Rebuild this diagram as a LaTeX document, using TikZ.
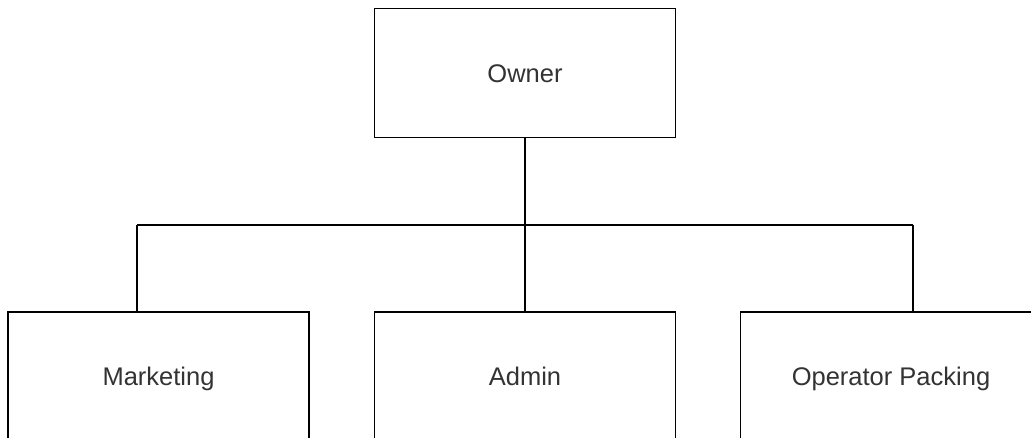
\documentclass[tikz,border=0pt]{standalone}
\usepackage{fontspec}
\setmainfont{Liberation Sans}
\begin{document}
\begin{tikzpicture}[x=1pt,y=-1pt,
  box/.style={draw=black,line width=1.5pt,minimum width=301pt,minimum height=129pt,inner sep=0pt,
    font=\fontsize{25.5}{30}\selectfont,text=black!80,text height=18pt,text depth=0pt},
  link/.style={draw=black,line width=1.5pt}]
\useasboundingbox (0,0) rectangle (1031,437);
\clip (0,0) rectangle (1031,437);
\fill[white] (0,0) rectangle (1031,437);
\node[box] (own) at (525,73) {Owner};
\node[box] (mkt) at (158.5,376.5) {Marketing};
\node[box] (adm) at (525,376.5) {Admin};
\node[box] (ops) at (891,376.5) {Operator Packing};
\coordinate (busL) at (137,225);
\coordinate (busM) at (525,225);
\coordinate (busR) at (913,225);
\draw[link] (own.south) -- (busM);
\draw[link] (busL) -- (busR);
\draw[link] (busL) -- (busL |- mkt.north);
\draw[link] (busM) -- (adm.north);
\draw[link] (busR) -- (busR |- ops.north);
\end{tikzpicture}
\end{document}
